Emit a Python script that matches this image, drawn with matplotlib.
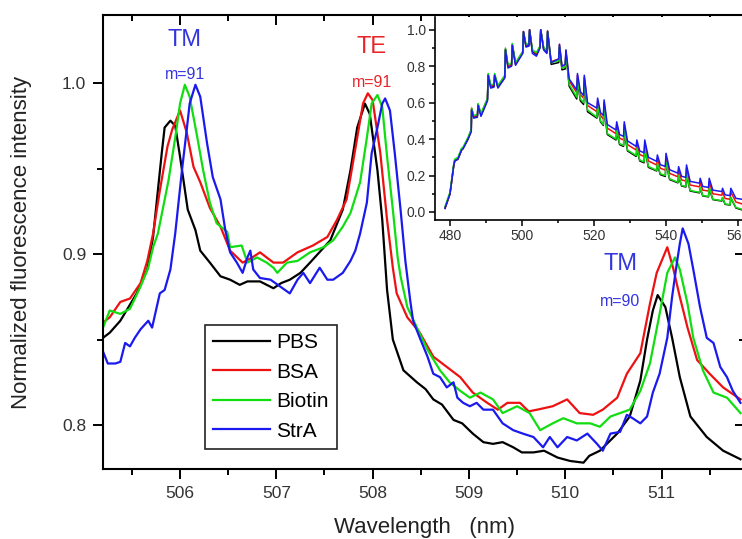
import matplotlib
matplotlib.use("Agg")
import matplotlib.pyplot as plt
from matplotlib.ticker import MultipleLocator, FormatStrFormatter

plt.rcParams['font.family'] = ['Liberation Sans', 'DejaVu Sans']

# ---- main spectra (wavelength nm, normalized intensity) ----
pbs_wl = [505.20, 505.27, 505.38, 505.55, 505.66, 505.72, 505.81, 505.84, 505.90, 505.95,
          506.00, 506.08, 506.16, 506.21, 506.31, 506.42, 506.52, 506.62, 506.70, 506.83,
          506.97, 507.05, 507.14, 507.25, 507.35, 507.56, 507.69, 507.77, 507.84, 507.92,
          507.97, 508.05, 508.10, 508.15, 508.21, 508.32, 508.46, 508.55, 508.63, 508.72,
          508.84, 508.93, 509.04, 509.15, 509.25, 509.35, 509.46, 509.55, 509.67, 509.78,
          509.92, 510.05, 510.19, 510.25, 510.36, 510.54, 510.67, 510.78, 510.85, 510.91,
          510.96, 511.04, 511.11, 511.19, 511.30, 511.47, 511.64, 511.82]
pbs_val = [0.851, 0.854, 0.861, 0.877, 0.891, 0.910, 0.959, 0.974, 0.978, 0.975,
           0.957, 0.926, 0.914, 0.902, 0.895, 0.887, 0.885, 0.882, 0.884, 0.884,
           0.880, 0.883, 0.885, 0.889, 0.895, 0.908, 0.926, 0.949, 0.974, 0.988,
           0.982, 0.949, 0.920, 0.879, 0.850, 0.832, 0.825, 0.821, 0.815, 0.812,
           0.803, 0.801, 0.795, 0.790, 0.789, 0.790, 0.787, 0.784, 0.784, 0.785,
           0.781, 0.779, 0.778, 0.782, 0.785, 0.795, 0.805, 0.826, 0.850, 0.867,
           0.876, 0.869, 0.851, 0.828, 0.805, 0.793, 0.785, 0.780]

bsa_wl = [505.20, 505.27, 505.38, 505.48, 505.59, 505.66, 505.72, 505.79, 505.87, 505.92,
          506.00, 506.07, 506.14, 506.21, 506.31, 506.42, 506.52, 506.65, 506.75, 506.83,
          506.97, 507.07, 507.22, 507.38, 507.53, 507.63, 507.73, 507.77, 507.84, 507.90,
          507.95, 508.00, 508.08, 508.15, 508.21, 508.25, 508.36, 508.49, 508.63, 508.77,
          508.91, 509.04, 509.19, 509.30, 509.40, 509.53, 509.62, 509.71, 509.87, 510.02,
          510.15, 510.29, 510.39, 510.54, 510.64, 510.78, 510.88, 510.95, 511.06, 511.12,
          511.19, 511.27, 511.37, 511.50, 511.64, 511.82]
bsa_val = [0.860, 0.863, 0.872, 0.874, 0.883, 0.896, 0.912, 0.937, 0.963, 0.973,
           0.984, 0.971, 0.951, 0.942, 0.927, 0.916, 0.902, 0.895, 0.898, 0.901,
           0.895, 0.895, 0.901, 0.905, 0.910, 0.920, 0.932, 0.945, 0.968, 0.988,
           0.994, 0.990, 0.959, 0.920, 0.892, 0.877, 0.863, 0.854, 0.840, 0.834,
           0.828, 0.819, 0.813, 0.809, 0.813, 0.813, 0.808, 0.809, 0.811, 0.815,
           0.807, 0.806, 0.809, 0.816, 0.830, 0.842, 0.871, 0.889, 0.904, 0.892,
           0.875, 0.857, 0.838, 0.830, 0.822, 0.815]

biotin_wl = [505.20, 505.27, 505.38, 505.48, 505.59, 505.67, 505.72, 505.77, 505.88, 505.95,
             506.00, 506.05, 506.10, 506.18, 506.24, 506.31, 506.38, 506.49, 506.52, 506.64,
             506.70, 506.80, 506.90, 506.97, 507.01, 507.11, 507.22, 507.35, 507.49, 507.59,
             507.69, 507.77, 507.87, 507.94, 507.99, 508.05, 508.10, 508.15, 508.21, 508.26,
             508.29, 508.36, 508.46, 508.57, 508.70, 508.80, 508.91, 509.01, 509.12, 509.25,
             509.35, 509.50, 509.63, 509.74, 509.87, 509.98, 510.12, 510.26, 510.36, 510.47,
             510.57, 510.67, 510.78, 510.88, 510.98, 511.06, 511.14, 511.19, 511.27, 511.33,
             511.43, 511.54, 511.68, 511.82]
biotin_val = [0.857, 0.867, 0.865, 0.868, 0.881, 0.892, 0.904, 0.912, 0.943, 0.968,
              0.988, 0.999, 0.992, 0.968, 0.949, 0.930, 0.918, 0.913, 0.904, 0.905,
              0.895, 0.898, 0.895, 0.892, 0.889, 0.895, 0.896, 0.901, 0.904, 0.908,
              0.916, 0.924, 0.942, 0.968, 0.988, 0.993, 0.986, 0.957, 0.926, 0.898,
              0.887, 0.869, 0.857, 0.844, 0.832, 0.825, 0.820, 0.816, 0.819, 0.815,
              0.807, 0.811, 0.807, 0.797, 0.801, 0.804, 0.801, 0.801, 0.799, 0.805,
              0.807, 0.809, 0.820, 0.836, 0.865, 0.889, 0.898, 0.891, 0.871, 0.851,
              0.832, 0.819, 0.816, 0.807]

stra_wl = [505.20, 505.25, 505.33, 505.38, 505.43, 505.48, 505.53, 505.59, 505.67, 505.71,
           505.75, 505.79, 505.84, 505.90, 505.95, 506.02, 506.07, 506.10, 506.16, 506.21,
           506.28, 506.34, 506.42, 506.47, 506.52, 506.59, 506.65, 506.70, 506.73, 506.76,
           506.83, 506.94, 507.04, 507.14, 507.22, 507.28, 507.35, 507.45, 507.53, 507.59,
           507.69, 507.77, 507.82, 507.87, 507.94, 507.99, 508.05, 508.10, 508.13, 508.18,
           508.23, 508.29, 508.34, 508.39, 508.42, 508.49, 508.57, 508.63, 508.70, 508.77,
           508.84, 508.88, 508.94, 509.01, 509.08, 509.15, 509.25, 509.35, 509.46, 509.56,
           509.67, 509.77, 509.84, 509.92, 510.02, 510.12, 510.23, 510.33, 510.39, 510.47,
           510.57, 510.64, 510.70, 510.78, 510.85, 510.91, 510.98, 511.06, 511.11, 511.16,
           511.19, 511.22, 511.28, 511.33, 511.40, 511.47, 511.54, 511.61, 511.68, 511.74,
           511.82]
stra_val = [0.843, 0.836, 0.836, 0.837, 0.848, 0.846, 0.851, 0.856, 0.861, 0.857,
            0.867, 0.877, 0.879, 0.891, 0.912, 0.949, 0.973, 0.988, 0.999, 0.992,
            0.965, 0.945, 0.932, 0.914, 0.901, 0.895, 0.889, 0.898, 0.902, 0.891,
            0.886, 0.885, 0.881, 0.877, 0.885, 0.889, 0.883, 0.892, 0.885, 0.885,
            0.889, 0.896, 0.902, 0.912, 0.930, 0.959, 0.974, 0.988, 0.991, 0.984,
            0.959, 0.926, 0.896, 0.873, 0.861, 0.851, 0.840, 0.830, 0.828, 0.822,
            0.825, 0.816, 0.813, 0.811, 0.813, 0.809, 0.809, 0.801, 0.797, 0.795,
            0.793, 0.787, 0.793, 0.787, 0.793, 0.791, 0.795, 0.789, 0.785, 0.795,
            0.796, 0.806, 0.804, 0.801, 0.805, 0.819, 0.830, 0.851, 0.875, 0.895,
            0.906, 0.915, 0.906, 0.891, 0.869, 0.851, 0.848, 0.834, 0.828, 0.820,
            0.813]

# ---- inset: full spectrum ----
inset_wl = [478.6, 480.0, 481.0, 481.3, 482.2, 483.2, 483.6, 485.0, 485.9, 486.0,
            486.6, 487.6, 487.8, 488.6, 490.4, 490.6, 491.3, 492.2, 492.4, 493.3,
            495.2, 495.4, 496.1, 497.1, 497.3, 498.2, 500.2, 500.4, 501.1, 501.9,
            502.1, 502.9, 504.0, 505.0, 505.2, 506.0, 506.9, 507.1, 508.1, 510.2,
            510.4, 511.1, 512.0, 512.2, 513.1, 515.2, 515.4, 516.2, 517.1, 517.3,
            518.2, 520.8, 521.0, 521.8, 522.6, 522.8, 523.7, 526.1, 526.3, 527.1,
            528.2, 528.4, 529.3, 531.7, 531.9, 532.7, 533.9, 534.1, 535.1, 537.4,
            537.6, 538.4, 539.8, 540.0, 541.0, 543.3, 543.5, 544.3, 545.5, 545.7,
            546.7, 549.3, 549.5, 550.2, 551.8, 552.0, 553.0, 555.5, 555.7, 556.4,
            557.8, 558.0, 559.4, 561.0]
inset_pbs = [0.02, 0.10, 0.25, 0.28, 0.29, 0.34, 0.35, 0.40, 0.45, 0.565,
             0.52, 0.525, 0.59, 0.53, 0.615, 0.75, 0.69, 0.69, 0.75, 0.685,
             0.74, 0.89, 0.80, 0.805, 0.915, 0.81, 0.875, 0.99, 0.91, 0.915,
             1.0, 0.88, 0.865, 0.905, 1.0, 0.895, 0.875, 0.99, 0.81, 0.82,
             0.90, 0.78, 0.785, 0.87, 0.69, 0.62, 0.72, 0.61, 0.59, 0.71,
             0.55, 0.515, 0.575, 0.495, 0.475, 0.565, 0.425, 0.395, 0.44, 0.37,
             0.36, 0.44, 0.335, 0.305, 0.345, 0.28, 0.27, 0.345, 0.245, 0.225,
             0.26, 0.205, 0.195, 0.27, 0.178, 0.16, 0.195, 0.143, 0.137, 0.205,
             0.115, 0.105, 0.13, 0.088, 0.083, 0.13, 0.068, 0.06, 0.078, 0.042,
             0.038, 0.078, 0.022, 0.012]
inset_bsa = [0.02, 0.10, 0.25, 0.28, 0.29, 0.34, 0.35, 0.40, 0.45, 0.57,
             0.525, 0.53, 0.59, 0.535, 0.62, 0.755, 0.69, 0.695, 0.755, 0.69,
             0.745, 0.895, 0.80, 0.81, 0.92, 0.815, 0.88, 0.99, 0.915, 0.92,
             1.0, 0.885, 0.87, 0.91, 1.0, 0.90, 0.885, 0.995, 0.825, 0.84,
             0.92, 0.80, 0.805, 0.885, 0.72, 0.655, 0.75, 0.645, 0.625, 0.74,
             0.585, 0.55, 0.61, 0.53, 0.51, 0.60, 0.46, 0.43, 0.48, 0.405,
             0.395, 0.48, 0.37, 0.34, 0.38, 0.315, 0.305, 0.38, 0.28, 0.258,
             0.295, 0.24, 0.23, 0.305, 0.212, 0.193, 0.23, 0.176, 0.17, 0.24,
             0.148, 0.138, 0.165, 0.12, 0.115, 0.165, 0.10, 0.092, 0.11, 0.074,
             0.07, 0.11, 0.055, 0.045]
inset_biotin = [0.03, 0.11, 0.26, 0.29, 0.30, 0.35, 0.355, 0.41, 0.455, 0.57,
                0.53, 0.535, 0.595, 0.54, 0.625, 0.76, 0.70, 0.70, 0.76, 0.695,
                0.75, 0.90, 0.81, 0.815, 0.925, 0.82, 0.88, 0.985, 0.92, 0.925,
                0.995, 0.89, 0.875, 0.91, 1.0, 0.905, 0.885, 0.99, 0.82, 0.83,
                0.91, 0.79, 0.795, 0.875, 0.70, 0.63, 0.73, 0.62, 0.60, 0.72,
                0.56, 0.52, 0.585, 0.50, 0.48, 0.575, 0.43, 0.40, 0.45, 0.375,
                0.365, 0.45, 0.34, 0.31, 0.35, 0.285, 0.275, 0.35, 0.25, 0.228,
                0.265, 0.21, 0.20, 0.275, 0.182, 0.163, 0.20, 0.146, 0.14, 0.21,
                0.118, 0.108, 0.135, 0.09, 0.085, 0.135, 0.07, 0.062, 0.08, 0.044,
                0.04, 0.08, 0.025, 0.015]
inset_stra = [0.02, 0.10, 0.25, 0.28, 0.29, 0.34, 0.345, 0.40, 0.44, 0.56,
              0.515, 0.52, 0.585, 0.525, 0.61, 0.75, 0.68, 0.685, 0.75, 0.68,
              0.735, 0.89, 0.79, 0.80, 0.915, 0.805, 0.87, 0.99, 0.905, 0.91,
              1.0, 0.87, 0.855, 0.90, 1.0, 0.89, 0.87, 0.99, 0.82, 0.84,
              0.92, 0.80, 0.81, 0.89, 0.73, 0.67, 0.76, 0.66, 0.64, 0.75,
              0.60, 0.57, 0.625, 0.545, 0.53, 0.615, 0.48, 0.45, 0.495, 0.425,
              0.415, 0.495, 0.39, 0.36, 0.395, 0.335, 0.325, 0.395, 0.30, 0.278,
              0.313, 0.26, 0.25, 0.322, 0.232, 0.213, 0.249, 0.196, 0.19, 0.258,
              0.168, 0.158, 0.185, 0.14, 0.135, 0.185, 0.12, 0.112, 0.13, 0.094,
              0.09, 0.13, 0.075, 0.07]

labels = ['PBS', 'BSA', 'Biotin', 'StrA']
colors = ['#000000', '#ee1111', '#11dd11', '#1a1aee']

W, H = 742, 539
fig = plt.figure(figsize=(7.42, 5.39), dpi=100)

# main axes (right edge sits just past the picture edge, like the source)
ax = fig.add_axes([103 / W, 1 - 469 / H, 642 / W, 454 / H])
main = [(pbs_wl, pbs_val), (bsa_wl, bsa_val), (biotin_wl, biotin_val), (stra_wl, stra_val)]
for (x, y), lab, c in zip(main, labels, colors):
    ax.plot(x, y, color=c, lw=1.6, label=lab)

ax.set_xlim(505.2, 511.867)
ax.set_ylim(0.7743, 1.0398)
ax.xaxis.set_major_locator(MultipleLocator(1))
ax.xaxis.set_minor_locator(MultipleLocator(0.5))
ax.yaxis.set_major_locator(MultipleLocator(0.1))
ax.yaxis.set_minor_locator(MultipleLocator(0.05))
ax.yaxis.set_major_formatter(FormatStrFormatter('%.1f'))
for s in ax.spines.values():
    s.set_linewidth(1.5)
ax.tick_params(which='major', direction='out', length=7, width=1.4,
               labelsize=12.5, labelcolor='#333333', pad=5)
ax.tick_params(which='minor', direction='out', length=4, width=1.4)
ax.tick_params(which='both', top=True, right=True)
# top/right ticks point inward
for t in ax.xaxis.get_major_ticks() + ax.xaxis.get_minor_ticks():
    t.tick2line.set_marker(3)
for t in ax.yaxis.get_major_ticks() + ax.yaxis.get_minor_ticks():
    t.tick2line.set_marker(0)

ax.set_xlabel('Wavelength   (nm)', fontsize=16, color='#222222', labelpad=12)
ax.set_ylabel('Normalized fluorescence intensity', fontsize=16, color='#222222', labelpad=22)

leg = ax.legend(loc='upper left', bbox_to_anchor=(205 / W, 1 - 325 / H),
                bbox_transform=fig.transFigure, borderaxespad=0, fontsize=15,
                frameon=True, fancybox=False, edgecolor='#222222', framealpha=1,
                handlelength=2.7, handletextpad=0.3, labelspacing=0.5,
                borderpad=0.4)
leg.get_frame().set_linewidth(1.2)

ax.text(506.05, 1.0250, 'TM', color='#3535dd', fontsize=17, ha='center', va='center')
ax.text(506.05, 1.0050, 'm=91', color='#3535dd', fontsize=11.5, ha='center', va='center')
ax.text(507.99, 1.0210, 'TE', color='#e8262a', fontsize=17, ha='center', va='center')
ax.text(507.99, 1.0005, 'm=91', color='#e8262a', fontsize=11.5, ha='center', va='center')
ax.text(510.57, 0.8940, 'TM', color='#3535dd', fontsize=17, ha='center', va='center')
ax.text(510.57, 0.8720, 'm=90', color='#3535dd', fontsize=11.5, ha='center', va='center')

# inset
ins = fig.add_axes([435 / W, 1 - 220 / H, 310 / W, 203 / H])
ins.set_facecolor('white')
for y, lab, c in zip([inset_pbs, inset_bsa, inset_biotin, inset_stra], labels, colors):
    ins.plot(inset_wl, y, color=c, lw=1.1)
ins.set_xlim(475.83, 561.94)
ins.set_ylim(-0.044, 1.07)
ins.xaxis.set_major_locator(MultipleLocator(20))
ins.xaxis.set_minor_locator(MultipleLocator(10))
ins.yaxis.set_major_locator(MultipleLocator(0.2))
ins.yaxis.set_minor_locator(MultipleLocator(0.1))
ins.yaxis.set_major_formatter(FormatStrFormatter('%.1f'))
ins.spines['top'].set_visible(False)
ins.spines['right'].set_visible(False)
for s in ('left', 'bottom'):
    ins.spines[s].set_linewidth(1.2)
ins.tick_params(which='major', direction='out', length=4.5, width=1.1,
                labelsize=10, labelcolor='#333333', pad=2)
ins.tick_params(which='minor', direction='out', length=2.5, width=1.1)

fig.savefig('out.png', dpi=100)
